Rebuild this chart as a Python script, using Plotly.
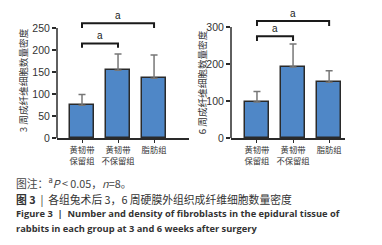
import plotly.graph_objects as go

categories = ["黄韧带<br>保留组", "黄韧带<br>不保留组", "脂肪组"]
week3_mean = [75, 154, 136]
week3_err = [24, 37, 53]
week6_mean = [98, 192, 151]
week6_err = [28, 62, 31]
week3_ticks = [0, 50, 100, 150, 200, 250]
week6_ticks = [0, 100, 200, 300]
# brackets: (from idx, to idx, level, tick bottom)
week3_brackets = [(0, 1, 215, 205), (0, 2, 261, 250)]
week6_brackets = [(0, 1, 275, 262), (0, 2, 316, 303)]

W, H = 382, 245
BAR = "#4F87C7"
EDGE = "#2a2a2a"
TXT = "#333333"
CJK = "Noto Sans CJK SC, Noto Sans, sans-serif"
NUM = "Liberation Sans, Arial, sans-serif"
ENG = "Open Sans, sans-serif"

fig = go.Figure()
xs = [0, 1, 2]
for i, (m, e) in enumerate([(week3_mean, week3_err), (week6_mean, week6_err)]):
    fig.add_trace(go.Bar(
        x=xs, y=m, width=0.67,
        marker=dict(color=BAR, line=dict(color=EDGE, width=1.5)),
        error_y=dict(type="data", array=e, arrayminus=[0, 0, 0], symmetric=False,
                     color="#777777", thickness=1.5, width=3.5),
        xaxis="x" if i == 0 else "x2", yaxis="y" if i == 0 else "y2",
        showlegend=False,
    ))

bottom = 133.5
ydom = [(H - bottom) / H, 1]

def xaxis(dom, rng):
    return dict(domain=dom, range=rng, tickvals=xs, ticktext=categories,
                showline=True, linecolor=EDGE, linewidth=1.5, ticks="outside",
                ticklen=3, tickcolor=EDGE, tickwidth=1.2, showgrid=False, zeroline=False,
                tickfont=dict(family=CJK, size=8.3, color=TXT), fixedrange=True)

def yaxis(anchor, rng, ticks):
    return dict(domain=ydom, range=rng, anchor=anchor, tickvals=ticks,
                showline=False, ticks="outside", ticklen=4, tickcolor=EDGE, tickwidth=1.5,
                showgrid=False, zeroline=False,
                tickfont=dict(family=NUM, size=10.5, color=TXT))

fig.update_layout(
    width=W, height=H, margin=dict(l=0, r=0, t=0, b=0),
    paper_bgcolor="white", plot_bgcolor="white",
    xaxis=xaxis([49 / W, 181 / W], [-0.694, 2.97]),
    yaxis=yaxis("x", [0, 133.5 / 0.452], week3_ticks),
    xaxis2=xaxis([223 / W, 337 / W], [-0.72, 2.44]),
    yaxis2=yaxis("x2", [0, 133.5 / 0.38], week6_ticks),
    bargap=0,
)

shapes = [
    dict(type="line", xref="x domain", yref="y", x0=0, x1=0, y0=0, y1=week3_ticks[-1],
         line=dict(color=EDGE, width=1.5)),
    dict(type="line", xref="x2 domain", yref="y2", x0=0, x1=0, y0=0, y1=week6_ticks[-1],
         line=dict(color=EDGE, width=1.5)),
]
annotations = []
for xr, yr, brs in [("x", "y", week3_brackets), ("x2", "y2", week6_brackets)]:
    for a, b, lvl, low in brs:
        shapes.append(dict(type="path", xref=xr, yref=yr,
                           path=f"M {a},{low} L {a},{lvl} L {b},{lvl} L {b},{low}",
                           line=dict(color="#1a1a1a", width=2)))
        annotations.append(dict(xref=xr, yref=yr, x=(a + b) / 2, y=lvl, text="a",
                                showarrow=False, yanchor="bottom", yshift=0,
                                font=dict(family=NUM, size=10, color="#1a1a1a")))

annotations += [
    dict(xref="paper", yref="paper", x=15 / W, y=1 - 74 / H, text="3 周成纤维细胞数量密度",
         textangle=-90, showarrow=False, xanchor="center", yanchor="middle",
         font=dict(family=CJK, size=9.6, color=TXT)),
    dict(xref="paper", yref="paper", x=194 / W, y=1 - 76 / H, text="6 周成纤维细胞数量密度",
         textangle=-90, showarrow=False, xanchor="center", yanchor="middle",
         font=dict(family=CJK, size=9.6, color=TXT)),
    dict(xref="paper", yref="paper", x=6 / W, y=1 - 179 / H, xanchor="left", yanchor="middle",
         text="图注：<sup>a</sup><i>P</i> < 0.05，<i>n</i>=8。", showarrow=False,
         font=dict(family=CJK, size=10.8, color="#444444")),
    dict(xref="paper", yref="paper", x=6 / W, y=1 - 196 / H, xanchor="left", yanchor="middle",
         text="<b>图 3</b>  |  各组兔术后 3，6 周硬膜外组织成纤维细胞数量密度", showarrow=False,
         font=dict(family=CJK, size=10.8, color="#333333")),
    dict(xref="paper", yref="paper", x=6 / W, y=1 - 211 / H, xanchor="left", yanchor="middle",
         text="<b>Figure 3  |  Number and density of fibroblasts in the epidural tissue of</b>",
         showarrow=False,
         font=dict(family=ENG, size=9.3, color="#333333")),
    dict(xref="paper", yref="paper", x=6 / W, y=1 - 226 / H, xanchor="left", yanchor="middle",
         text="<b>rabbits in each group at 3 and 6 weeks after surgery</b>", showarrow=False,
         font=dict(family=ENG, size=9.3, color="#333333")),
]
fig.update_layout(shapes=shapes, annotations=annotations)
fig.write_html("out.html")
